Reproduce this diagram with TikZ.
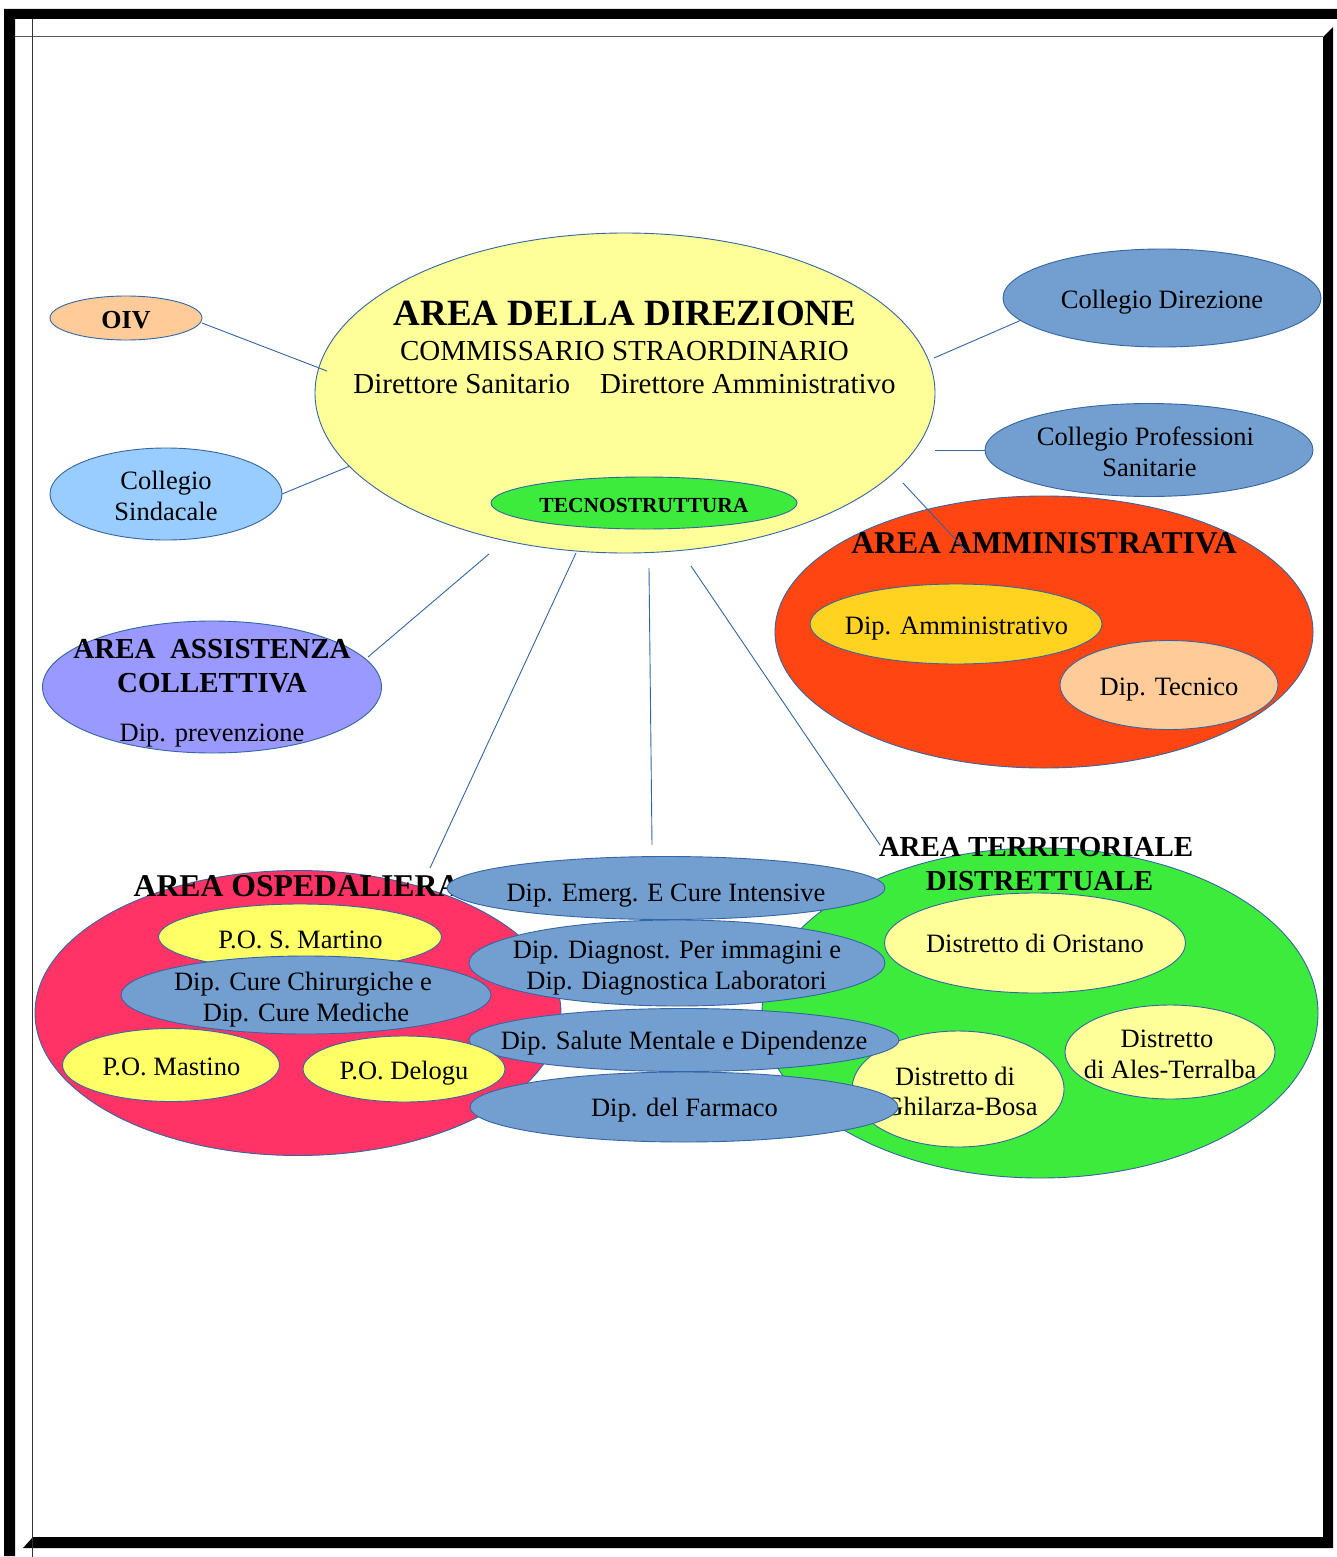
\documentclass[tikz,border=0pt]{standalone}
\usepackage{fontspec}
\setmainfont{Liberation Serif}
\usetikzlibrary{shapes.geometric}
\definecolor{outl}{HTML}{3465A4}
\definecolor{dirY}{HTML}{FFFF99}
\definecolor{tecG}{HTML}{3DEB3D}
\definecolor{peach}{HTML}{FFCC99}
\definecolor{skyB}{HTML}{99CCFF}
\definecolor{steelB}{HTML}{729FCF}
\definecolor{redO}{HTML}{FF4512}
\definecolor{gold}{HTML}{FFD320}
\definecolor{lav}{HTML}{9999FF}
\definecolor{pinkR}{HTML}{FF3366}
\definecolor{yel}{HTML}{FFFF66}
\begin{document}
\begin{tikzpicture}[x=1pt,y=-1pt,
  ell/.style={ellipse, draw=outl, line width=0.9pt, inner sep=0pt, outer sep=0pt},
  rtxt/.style={anchor=base, inner sep=0pt, font=\fontsize{26.5}{30}\selectfont},
  btxt/.style={anchor=base, inner sep=0pt, font=\fontsize{31.7}{36}\selectfont\bfseries},
  bsm/.style={anchor=base, inner sep=0pt, font=\fontsize{29}{34}\selectfont\bfseries},
  conn/.style={draw=outl, line width=0.9pt},
]
\useasboundingbox (0,0) rectangle (1337,1557);
\fill[white] (0,0) rectangle (1337,1557);
% frame
\fill[black] (4,9) -- (1337,9) -- (1337,19) -- (15,19) -- (15,1556) -- (4,1556) -- cycle;
\fill[black] (1333,27) -- (1333,1548) -- (23,1548) -- (33,1537) -- (1323,1537) -- (1323,37) -- cycle;
\draw[black!65, line width=1pt] (15,37) -- (1323,37);
\draw[black!80, line width=1pt] (32,19) -- (32,1557);

% direzione
\node[ell, fill=dirY, minimum width=620pt, minimum height=320pt] (dir) at (625,393) {};
\node[anchor=base, inner sep=0pt, font=\fontsize{37}{40}\selectfont\bfseries] (dirT1) at (625,325) {AREA DELLA DIREZIONE};
\node[anchor=base, inner sep=0pt, font=\fontsize{29}{32}\selectfont] (dirT2) at (624.5,360) {COMMISSARIO STRAORDINARIO};
\node[anchor=base, inner sep=0pt, font=\fontsize{29}{32}\selectfont] (dirT3) at (624.5,393) {Direttore Sanitario\hspace{30pt}Direttore Amministrativo};
\node[ell, fill=tecG, minimum width=306pt, minimum height=52pt] (tecno) at (644,503) {};
\node[anchor=base, inner sep=0pt, font=\fontsize{21.5}{24}\selectfont\bfseries] (tecnoT) at (644,512) {TECNOSTRUTTURA};

% side bodies
\node[ell, fill=peach, minimum width=152pt, minimum height=44pt] (oiv) at (126,318) {};
\node[anchor=base, inner sep=0pt, font=\fontsize{26}{30}\selectfont\bfseries] (oivT) at (126,328) {OIV};
\node[ell, fill=skyB, minimum width=232pt, minimum height=92pt] (sind) at (166,494) {};
\node[rtxt] (sindT1) at (166,489) {Collegio};
\node[rtxt] (sindT2) at (166,520) {Sindacale};
\node[ell, fill=steelB, minimum width=318pt, minimum height=98pt] (colldir) at (1162,298) {};
\node[rtxt] (colldirT) at (1162,308) {Collegio Direzione};
\node[ell, fill=steelB, minimum width=328pt, minimum height=93pt] (collprof) at (1149,450) {};
\node[rtxt] (collprofT1) at (1145.5,445) {Collegio Professioni};
\node[rtxt] (collprofT2) at (1149.5,476) {Sanitarie};

% area amministrativa
\node[ell, fill=redO, minimum width=538pt, minimum height=272pt] (amm) at (1044,632) {};
\node[btxt] (ammT) at (1044,553) {AREA AMMINISTRATIVA};
\node[ell, fill=gold, minimum width=292pt, minimum height=80pt] (dipamm) at (956,624) {};
\node[rtxt] (dipammT) at (956.5,634) {Dip. Amministrativo};
\node[ell, fill=peach, minimum width=218pt, minimum height=89pt] (diptec) at (1169,685) {};
\node[rtxt] (diptecT) at (1169,695) {Dip. Tecnico};

% area assistenza collettiva
\node[ell, fill=lav, minimum width=339pt, minimum height=132pt] (assist) at (212,687) {};
\node[bsm] (assistT1) at (212,658) {AREA\ \ ASSISTENZA};
\node[bsm] (assistT2) at (212,692) {COLLETTIVA};
\node[rtxt] (assistT3) at (212,741) {Dip. prevenzione};

% big lower areas
\node[ell, fill=pinkR, minimum width=526pt, minimum height=285pt] (osp) at (298,1013) {};
\node[ell, fill=tecG, minimum width=556pt, minimum height=330pt] (terr) at (1040,1013) {};
\node[btxt] (ospT) at (297,896) {AREA OSPEDALIERA};
\node[bsm] (terrT1) at (1036,856) {AREA TERRITORIALE};
\node[bsm] (terrT2) at (1039.5,890) {DISTRETTUALE};

\node[ell, fill=yel, minimum width=283pt, minimum height=66pt] (martino) at (300,937) {};
\node[rtxt] (martinoT) at (300.5,948) {P.O. S. Martino};
\node[ell, fill=dirY, minimum width=301pt, minimum height=100pt] (oristano) at (1035,943) {};
\node[rtxt] (oristanoT) at (1035,952) {Distretto di Oristano};
\node[ell, fill=dirY, minimum width=210pt, minimum height=94pt] (ales) at (1170,1052) {};
\node[rtxt] (alesT1) at (1167,1047) {Distretto};
\node[rtxt] (alesT2) at (1170,1078) {di Ales-Terralba};
\node[ell, fill=dirY, minimum width=212pt, minimum height=116pt] (ghil) at (958,1089) {};
\node[rtxt] (ghilT1) at (955,1085) {Distretto di};
\node[rtxt] (ghilT2) at (961,1115) {Ghilarza-Bosa};

% transversal departments
\node[ell, fill=steelB, minimum width=438pt, minimum height=63pt] (emerg) at (666,888) {};
\node[rtxt] (emergT) at (666,901) {Dip. Emerg. E Cure Intensive};
\node[ell, fill=steelB, minimum width=416pt, minimum height=86pt] (diagn) at (677,963) {};
\node[rtxt] (diagnT1) at (677,958) {Dip. Diagnost. Per immagini e};
\node[rtxt] (diagnT2) at (676.5,989) {Dip. Diagnostica Laboratori};
\node[ell, fill=steelB, minimum width=430pt, minimum height=63pt] (salute) at (684,1040) {};
\node[rtxt] (saluteT) at (684,1049) {Dip. Salute Mentale e Dipendenze};
\node[ell, fill=steelB, minimum width=370pt, minimum height=78pt] (cure) at (306,995) {};
\node[rtxt] (cureT1) at (303,990) {Dip. Cure Chirurgiche e};
\node[rtxt] (cureT2) at (306,1021) {Dip. Cure Mediche};
\node[ell, fill=yel, minimum width=202pt, minimum height=66pt] (delogu) at (404,1069) {};
\node[rtxt] (deloguT) at (404,1079) {P.O. Delogu};
\node[ell, fill=yel, minimum width=217pt, minimum height=73pt] (mastino) at (171,1065) {};
\node[rtxt] (mastinoT) at (171.5,1075) {P.O. Mastino};
\node[ell, fill=steelB, minimum width=428pt, minimum height=70pt] (farmaco) at (684,1107) {};
\node[rtxt] (farmacoT) at (684.5,1116) {Dip. del Farmaco};

% connectors
\coordinate (cOiv) at (327,371);
\coordinate (cSind) at (350,466);
\coordinate (cDir1) at (934,358);
\coordinate (cDir2) at (935,450);
\coordinate (cDir3) at (903,483);
\coordinate (cAmm) at (968,553);
\coordinate (cDir4) at (489,554);
\coordinate (cAss) at (368,657);
\coordinate (cDir5) at (576,553);
\coordinate (cOsp) at (430,868);
\coordinate (cDir6) at (649,568);
\coordinate (cEme) at (652,845);
\coordinate (cDir7) at (691,566);
\coordinate (cTerr) at (880,845);
\draw[conn] ([yshift=-5pt]oiv.east) -- (cOiv);
\draw[conn] (sind.east) -- (cSind);
\draw[conn] (cDir1) -- (colldir.189);
\draw[conn] (cDir2) -- (collprof.west);
\draw[conn] (cDir3) -- (cAmm);
\draw[conn] (cDir4) -- (cAss);
\draw[conn] (cDir5) -- (cOsp);
\draw[conn] (cDir6) -- (cEme);
\draw[conn] (cDir7) -- (cTerr);
\end{tikzpicture}
\end{document}
